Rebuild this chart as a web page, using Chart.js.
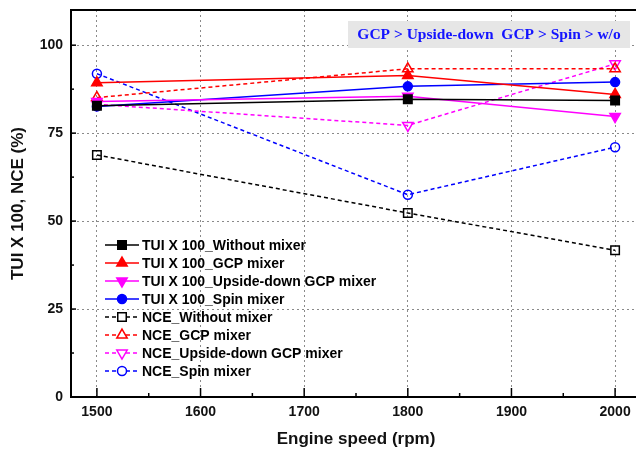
<!DOCTYPE html>
<html>
<head>
<meta charset="utf-8">
<script src="https://cdn.jsdelivr.net/npm/chart.js@4.4.1/dist/chart.umd.min.js"></script>
<style>
  html, body { margin: 0; padding: 0; overflow: hidden; background: #fff; }
</style>
</head>
<body>
<canvas id="chart" width="642" height="457"></canvas>
<script>
// engine speeds (rpm)
const speeds = [1500, 1800, 2000];
const xTicks = [1500, 1600, 1700, 1800, 1900, 2000];
const yTicks = [0, 25, 50, 75, 100];

// TUI x 100
const tuiWithout = [82.8, 84.6, 84.3];
const tuiGcp = [89.3, 91.4, 86.0];
const tuiUpside = [84.0, 85.5, 79.7];
const tuiSpin = [82.6, 88.3, 89.5];
// NCE
const nceWithout = [68.8, 52.3, 41.7];
const nceGcp = [85.1, 93.3, 93.3];
const nceUpside = [83.2, 77.2, 94.7];
const nceSpin = [91.9, 57.5, 71.0];

const legendLabels = [
  "TUI X 100_Without mixer",
  "TUI X 100_GCP mixer",
  "TUI X 100_Upside-down GCP mixer",
  "TUI X 100_Spin mixer",
  "NCE_Without mixer",
  "NCE_GCP mixer",
  "NCE_Upside-down GCP mixer",
  "NCE_Spin mixer",
];
const noteText = "GCP > Upside-down  GCP > Spin > w/o";

const BLACK = "#000000", RED = "#ff0000", MAGENTA = "#ff00ff", BLUE = "#0000ff";

const series = (label, values, color, pointStyle, filled, dashed, rotation) => ({
  label,
  data: values.map((y, i) => ({ x: speeds[i], y })),
  borderColor: color,
  backgroundColor: filled ? color : "rgba(255,255,255,0)",
  borderWidth: 1.5,
  borderDash: dashed ? [4, 3] : [],
  pointStyle,
  pointRotation: rotation || 0,
  pointRadius: pointStyle === "circle" ? 4.5 : 6,
  pointBorderWidth: 1.5,
  pointBorderColor: color,
  pointBackgroundColor: filled ? color : "rgba(255,255,255,0)",
  tension: 0,
  fill: false,
});

const datasets = [
  series(legendLabels[0], tuiWithout, BLACK, "rect", true, false),
  series(legendLabels[1], tuiGcp, RED, "triangle", true, false),
  series(legendLabels[2], tuiUpside, MAGENTA, "triangle", true, false, 180),
  series(legendLabels[3], tuiSpin, BLUE, "circle", true, false),
  series(legendLabels[4], nceWithout, BLACK, "rect", false, true),
  series(legendLabels[5], nceGcp, RED, "triangle", false, true),
  series(legendLabels[6], nceUpside, MAGENTA, "triangle", false, true, 180),
  series(legendLabels[7], nceSpin, BLUE, "circle", false, true),
];

// inward ticks, top frame, legend box and the note
const decorations = {
  id: "decorations",
  afterDatasetsDraw(chart) {
    const { ctx, chartArea: a, scales: { x, y } } = chart;
    ctx.save();
    ctx.strokeStyle = "#000";
    ctx.setLineDash([]);

    // top frame line
    ctx.lineWidth = 2;
    ctx.beginPath();
    ctx.moveTo(a.left, a.top);
    ctx.lineTo(a.right, a.top);
    ctx.stroke();
    ctx.lineWidth = 1.5;

    // x ticks (major + minor)
    xTicks.forEach((v, i) => {
      const px = x.getPixelForValue(v);
      ctx.beginPath();
      ctx.moveTo(px, a.bottom);
      ctx.lineTo(px, a.bottom - 9);
      ctx.stroke();
      const mids = i === 0 ? [v - 50, v + 50] : [v + 50];
      mids.forEach((m) => {
        const mp = x.getPixelForValue(m);
        if (mp > a.left && mp < a.right) {
          ctx.beginPath();
          ctx.moveTo(mp, a.bottom);
          ctx.lineTo(mp, a.bottom - 4);
          ctx.stroke();
        }
      });
    });
    // y ticks (major + minor)
    yTicks.forEach((v) => {
      const py = y.getPixelForValue(v);
      ctx.beginPath();
      ctx.moveTo(a.left, py);
      ctx.lineTo(a.left + 5, py);
      ctx.stroke();
      const mid = y.getPixelForValue(v + 12.5);
      if (mid > a.top) {
        ctx.beginPath();
        ctx.moveTo(a.left, mid);
        ctx.lineTo(a.left + 3, mid);
        ctx.stroke();
      }
    });

    // legend
    const lx = 105, ly = 245, rowH = 18;
    ctx.font = "bold 14px 'Liberation Sans', Arial, sans-serif";
    ctx.textBaseline = "middle";
    ctx.textAlign = "left";
    chart.data.datasets.forEach((d, i) => {
      const yy = ly + i * rowH;
      ctx.strokeStyle = d.borderColor;
      ctx.lineWidth = 1.5;
      ctx.setLineDash(d.borderDash);
      ctx.beginPath();
      ctx.moveTo(lx, yy);
      ctx.lineTo(lx + 34, yy);
      ctx.stroke();
      ctx.setLineDash([]);
      if (d.borderDash.length) {
        ctx.save();
        ctx.fillStyle = "#fff";
        Chart.helpers.drawPoint(ctx, {
          pointStyle: d.pointStyle, radius: d.pointRadius, rotation: d.pointRotation, borderWidth: 0,
        }, lx + 17, yy);
        ctx.restore();
      }
      ctx.fillStyle = d.pointBackgroundColor;
      Chart.helpers.drawPoint(ctx, {
        pointStyle: d.pointStyle, radius: d.pointRadius, rotation: d.pointRotation, borderWidth: 1.5,
      }, lx + 17, yy);
      ctx.fillStyle = "#000";
      ctx.fillText(d.label, lx + 37, yy + 1);
    });

    // note box
    ctx.fillStyle = "#e6e6e6";
    ctx.fillRect(348, 21, 282, 27);
    ctx.fillStyle = "#1414ff";
    ctx.font = "bold 15.5px 'Liberation Serif', 'Times New Roman', serif";
    ctx.textAlign = "center";
    ctx.fillText(noteText, 489, 35);
    ctx.restore();
  },
};

const tickFont = { family: "'Liberation Sans', Arial, sans-serif", size: 14, weight: "bold" };

new Chart(document.getElementById("chart"), {
  type: "line",
  data: { datasets },
  plugins: [decorations],
  options: {
    responsive: false,
    animation: false,
    layout: { autoPadding: false, padding: { top: 10, right: 1, left: 0, bottom: 0 } },
    plugins: { legend: { display: false }, tooltip: { enabled: false } },
    scales: {
      x: {
        type: "linear",
        min: 1475,
        max: 2025,
        afterBuildTicks: (s) => { s.ticks = xTicks.map((v) => ({ value: v })); },
        afterFit: (s) => { s.height = 60; s.paddingLeft = 0; s.paddingRight = 0; },
        ticks: { font: tickFont, color: "#111", padding: 7, maxRotation: 0, callback: (v) => String(v) },
        grid: { color: "#8a8a8a", lineWidth: 1, drawTicks: false },
        border: { color: "#000", width: 2, dash: [2, 3] },
        title: {
          display: true,
          text: "Engine speed (rpm)",
          color: "#111",
          font: { family: "'Liberation Sans', Arial, sans-serif", size: 17, weight: "bold" },
          padding: { top: 0, bottom: 7 },
        },
      },
      y: {
        type: "linear",
        min: 0,
        max: 110,
        afterBuildTicks: (s) => { s.ticks = yTicks.map((v) => ({ value: v })); },
        afterFit: (s) => { s.width = 71; s.paddingTop = 0; s.paddingBottom = 0; },
        ticks: { font: tickFont, color: "#111", padding: 8 },
        grid: { color: "#8a8a8a", lineWidth: 1, drawTicks: false },
        border: { color: "#000", width: 2, dash: [2, 3] },
        title: {
          display: true,
          text: "TUI X 100, NCE (%)",
          color: "#111",
          font: { family: "'Liberation Sans', Arial, sans-serif", size: 17, weight: "bold" },
          padding: { top: 8, bottom: 0 },
        },
      },
    },
  },
});
</script>
</body>
</html>
